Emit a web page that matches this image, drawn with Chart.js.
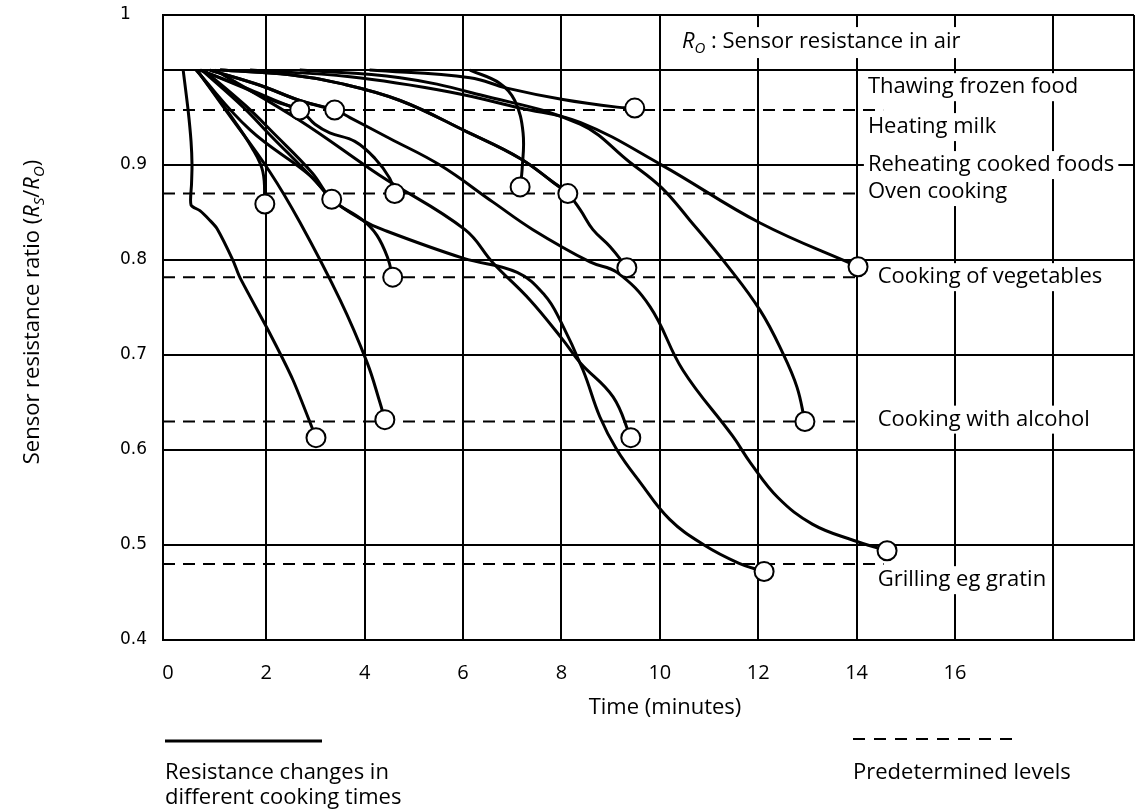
<!DOCTYPE html>
<html><head><meta charset="utf-8">
<script src="https://cdn.jsdelivr.net/npm/chart.js@4/dist/chart.umd.min.js"></script>
<style>html,body{margin:0;padding:0;background:#fff;overflow:hidden;}#wrap{width:1135px;height:812px;}canvas{display:block;}</style>
</head><body><div id="wrap"><canvas id="c" width="1135" height="812"></canvas></div>
<script>
// ---------- DATA ----------
const xTickValues = [0, 2, 4, 6, 8, 10, 12, 14, 16, 18];
const xTickLabels = ['0', '2', '4', '6', '8', '10', '12', '14', '16', ''];
const yTickValues = [0.4, 0.5, 0.6, 0.7, 0.8, 0.9, 1.0];
const yTickLabels = ['0.4', '0.5', '0.6', '0.7', '0.8', '0.9', ''];
const yTopLabel = '1';

// Resistance-ratio curves (time in minutes, Rs/Ro)
const curveATime  = [0.31, 0.41, 0.47, 0.49, 0.48, 0.47, 0.65, 0.85, 1.0, 1.32, 1.46, 2.07, 2.54, 3.01];
const curveARatio = [1.0, 0.958, 0.925, 0.9, 0.88, 0.858, 0.852, 0.842, 0.833, 0.8, 0.782, 0.723, 0.674, 0.613];
const curveBTime  = [0.59, 1.2, 2.07, 2.68, 3.5, 4.05, 4.31, 4.41];
const curveBRatio = [1.0, 0.956, 0.893, 0.84, 0.758, 0.692, 0.65, 0.632];
const curveCTime  = [0.59, 1.26, 1.71, 1.93, 1.97];
const curveCRatio = [1.0, 0.953, 0.918, 0.893, 0.859];
const curveDTime  = [0.69, 1.53, 2.07, 2.89, 3.33];
const curveDRatio = [1.0, 0.961, 0.932, 0.889, 0.864];
const curveETime  = [0.73, 1.57, 2.14, 2.93, 3.33, 3.96, 4.25, 4.47, 4.57];
const curveERatio = [1.0, 0.963, 0.934, 0.892, 0.864, 0.842, 0.826, 0.802, 0.782];
const curveFTime  = [0.65, 1.46, 2.18, 2.68];
const curveFRatio = [1.0, 0.984, 0.968, 0.958];
const curveGTime  = [0.67, 1.46, 2.18, 2.68, 2.99, 3.29, 3.8, 4.21, 4.51, 4.61];
const curveGRatio = [1.0, 0.983, 0.967, 0.958, 0.943, 0.934, 0.925, 0.907, 0.886, 0.87];
const curveHTime  = [0.85, 1.87, 2.68, 3.39];
const curveHRatio = [1.0, 0.984, 0.968, 0.958];
const curveITime  = [0.85, 1.87, 2.68, 3.39, 3.7, 4.51, 5.53, 6.61, 7.42, 8.58, 9.13, 9.8, 10.47, 11.49, 11.85, 12.4, 13.1, 13.93, 14.62];
const curveIRatio = [1.0, 0.984, 0.968, 0.958, 0.95, 0.928, 0.9, 0.861, 0.832, 0.798, 0.787, 0.751, 0.684, 0.614, 0.586, 0.55, 0.522, 0.505, 0.494];
const curveJTime  = [1.06, 2.48, 3.5, 4.72, 6.08, 7.16, 7.83, 8.13];
const curveJRatio = [1.0, 0.995, 0.986, 0.968, 0.935, 0.907, 0.882, 0.87];
const curveKTime  = [1.06, 2.48, 3.5, 4.72, 6.08, 7.16, 7.83, 8.13, 8.38, 8.64, 8.99, 9.33];
const curveKRatio = [1.0, 0.995, 0.986, 0.968, 0.935, 0.907, 0.882, 0.87, 0.853, 0.832, 0.814, 0.792];
const curveLTime  = [6.14, 6.75, 7.05, 7.22, 7.2, 7.16];
const curveLRatio = [1.0, 0.986, 0.968, 0.934, 0.895, 0.877];
const curveMTime  = [4.1, 6.14, 6.89, 8.03, 9.13, 9.49];
const curveMRatio = [1.0, 0.992, 0.981, 0.969, 0.961, 0.96];
const curveNTime  = [1.67, 3.7, 5.73, 7.16, 8.38, 10.04, 12.04, 14.03];
const curveNRatio = [1.0, 0.993, 0.977, 0.96, 0.945, 0.9, 0.839, 0.793];
const curveOTime  = [2.68, 4.72, 6.34, 8.38, 9.39, 10.04, 10.61, 11.36, 12.04, 12.5, 12.79, 12.95];
const curveORatio = [1.0, 0.992, 0.974, 0.943, 0.903, 0.876, 0.842, 0.795, 0.747, 0.702, 0.666, 0.63];
const curvePTime  = [0.96, 2.68, 4.31, 6.04, 6.61, 7.36, 8.03, 8.38, 9.05, 9.41];
const curvePRatio = [1.0, 0.947, 0.889, 0.832, 0.797, 0.758, 0.716, 0.692, 0.656, 0.613];
const curveQTime  = [0.57, 1.67, 2.89, 3.33, 3.96, 4.37, 6.0, 7.1, 7.66, 7.97, 8.44, 8.78, 9.13, 9.6, 10.2, 10.9, 11.6, 12.12];
const curveQRatio = [1.0, 0.937, 0.889, 0.864, 0.842, 0.832, 0.802, 0.787, 0.763, 0.737, 0.684, 0.635, 0.6, 0.566, 0.527, 0.5, 0.481, 0.472];

// Predetermined levels (dashed)
const levelRatios = [0.958, 0.87, 0.782, 0.63, 0.48];
const levelEndTimes = [14.54, 14.08, 14.0, 14.08, 14.55];

// Level annotations
const levelNames = ['Thawing frozen food', 'Heating milk', 'Reheating cooked foods', 'Oven cooking',
                    'Cooking of vegetables', 'Cooking with alcohol', 'Grilling eg gratin'];

// ---------- BUILD ----------
const curves = [
  [curveATime, curveARatio], [curveBTime, curveBRatio], [curveCTime, curveCRatio],
  [curveDTime, curveDRatio], [curveETime, curveERatio], [curveFTime, curveFRatio],
  [curveGTime, curveGRatio], [curveHTime, curveHRatio], [curveITime, curveIRatio],
  [curveJTime, curveJRatio], [curveKTime, curveKRatio], [curveLTime, curveLRatio],
  [curveMTime, curveMRatio], [curveNTime, curveNRatio], [curveOTime, curveORatio],
  [curvePTime, curvePRatio], [curveQTime, curveQRatio]
];
const X_MIN = -0.1, X_MAX = 19.64, Y_MIN = 0.4, Y_MAX = 1.058;
const LEVEL_START = -0.1;
const labelLayout = [
  {t: 14.23, r: 0.982}, {t: 14.23, r: 0.94}, {t: 14.23, r: 0.9}, {t: 14.23, r: 0.8716},
  {t: 14.43, r: 0.782}, {t: 14.43, r: 0.632}, {t: 14.43, r: 0.463}
];
const FAMILY = '"Open Sans", "Noto Sans", sans-serif';
const LABEL_FONT = '22px ' + FAMILY;

const datasets = [];
curves.forEach(([ts, rs], i) => {
  datasets.push({
    type: 'scatter', showLine: true,
    data: ts.map((t, k) => ({x: t, y: rs[k]})),
    borderColor: '#000', borderWidth: 3, pointRadius: 0,
    tension: i === 0 ? 0.25 : 0.4, fill: false, order: 1
  });
});
levelRatios.forEach((lv, i) => {
  datasets.push({
    type: 'scatter', showLine: true,
    data: [{x: LEVEL_START, y: lv}, {x: levelEndTimes[i], y: lv}],
    borderColor: '#000', borderWidth: 2, borderDash: [12, 8], pointRadius: 0, tension: 0, order: 2
  });
});
datasets.push({
  type: 'scatter', showLine: false,
  data: curves.map(([ts, rs]) => ({x: ts[ts.length - 1], y: rs[rs.length - 1]})),
  pointRadius: 9.5, pointBackgroundColor: '#fff', pointBorderColor: '#000', pointBorderWidth: 2,
  order: 0
});

function fontFor(p, base) {
  const size = p.sub ? Math.round(base * 0.68) : base;
  return (p.italic ? 'italic ' : '') + size + 'px ' + FAMILY;
}
function drawRich(ctx, parts, x, y, base) {
  let cx = x;
  for (const p of parts) {
    ctx.font = fontFor(p, base);
    ctx.fillText(p.text, cx, y + (p.sub ? base * 0.3 : 0));
    cx += ctx.measureText(p.text).width;
  }
  return cx - x;
}
function measureRich(ctx, parts, base) {
  let w = 0;
  for (const p of parts) { ctx.font = fontFor(p, base); w += ctx.measureText(p.text).width; }
  return w;
}

const overlay = {
  id: 'overlay',
  beforeDatasetsDraw(chart) {
    const {ctx, scales: {x, y}} = chart;
    ctx.save();
    ctx.textBaseline = 'middle';
    ctx.textAlign = 'left';
    levelNames.forEach((name, i) => {
      const px = x.getPixelForValue(labelLayout[i].t), py = y.getPixelForValue(labelLayout[i].r);
      ctx.font = LABEL_FONT;
      const w = ctx.measureText(name).width;
      ctx.fillStyle = '#fff';
      ctx.fillRect(px - 4, py - 14, w + 8, 28);
      ctx.fillStyle = '#000';
      ctx.fillText(name, px, py);
    });
    // Ro annotation
    const parts = [{text: 'R', italic: true}, {text: 'O', italic: true, sub: true}, {text: ' : Sensor resistance in air'}];
    const rx = x.getPixelForValue(10.45), ry = y.getPixelForValue(1.0295);
    const rw = measureRich(ctx, parts, 22);
    ctx.fillStyle = '#fff';
    ctx.fillRect(rx - 4, ry - 15, rw + 8, 31);
    ctx.fillStyle = '#000';
    drawRich(ctx, parts, rx, ry, 22);
    ctx.restore();
  },
  afterDraw(chart) {
    const {ctx} = chart;
    ctx.save();
    ctx.fillStyle = '#000';
    ctx.strokeStyle = '#000';
    ctx.textBaseline = 'middle';
    // x-axis title
    ctx.font = '22px ' + FAMILY;
    ctx.textAlign = 'center';
    ctx.fillText('Time (minutes)', 665, 708);
    // y-axis title (rotated)
    ctx.save();
    ctx.translate(33, 312);
    ctx.rotate(-Math.PI / 2);
    const yparts = [
      {text: 'Sensor resistance ratio ('},
      {text: 'R', italic: true}, {text: 'S', italic: true, sub: true},
      {text: '/'},
      {text: 'R', italic: true}, {text: 'O', italic: true, sub: true},
      {text: ')'}
    ];
    ctx.textAlign = 'left';
    const yw = measureRich(ctx, yparts, 22);
    drawRich(ctx, yparts, -yw / 2, 0, 22);
    ctx.restore();
    // legend
    ctx.lineWidth = 3;
    ctx.beginPath(); ctx.moveTo(165, 741); ctx.lineTo(322, 741); ctx.stroke();
    ctx.lineWidth = 2;
    ctx.setLineDash([12, 9]);
    ctx.beginPath(); ctx.moveTo(853, 739); ctx.lineTo(1015, 739); ctx.stroke();
    ctx.setLineDash([]);
    ctx.textAlign = 'left';
    ctx.font = '22px ' + FAMILY;
    ctx.fillText('Resistance changes in', 165, 773);
    ctx.fillText('different cooking times', 165, 798);
    ctx.fillText('Predetermined levels', 853, 773);
    ctx.restore();
  }
};

new Chart(document.getElementById('c'), {
  type: 'scatter',
  data: {datasets},
  plugins: [overlay],
  options: {
    responsive: false, animation: false,
    layout: {autoPadding: false, padding: {left: 120, top: 15, right: 1, bottom: 0}},
    plugins: {legend: {display: false}, tooltip: {enabled: false}},
    scales: {
      x: {
        type: 'linear', min: X_MIN, max: X_MAX,
        afterFit(s) { s.height = 172; s.paddingLeft = 0; s.paddingRight = 0; },
        afterBuildTicks(s) { s.ticks = xTickValues.map(v => ({value: v})).concat([{value: X_MAX}]); },
        ticks: {
          autoSkip: false, maxRotation: 0, padding: 21, color: '#000',
          font: {family: FAMILY, size: 20},
          callback(v, i) { return i < xTickLabels.length ? xTickLabels[i] : ''; }
        },
        grid: {color: (c) => (c.tick && c.tick.value === 0) ? 'rgba(0,0,0,0)' : '#000', lineWidth: 2, drawTicks: false},
        border: {display: true, color: '#000', width: 2}
      },
      y: {
        type: 'linear', min: Y_MIN, max: Y_MAX,
        afterFit(s) { s.width = 43; s.paddingTop = 0; s.paddingBottom = 0; },
        afterBuildTicks(s) { s.ticks = yTickValues.map(v => ({value: v})).concat([{value: Y_MAX}]); },
        ticks: {
          autoSkip: false, padding: 0, crossAlign: 'far', color: '#000',
          font: {family: '"DejaVu Sans", sans-serif', size: 17},
          callback(v, i) { return i < yTickLabels.length ? yTickLabels[i] : yTopLabel; }
        },
        grid: {color: '#000', lineWidth: 2, drawTicks: false},
        border: {display: true, color: '#000', width: 2}
      }
    }
  }
});
</script>
</body></html>
